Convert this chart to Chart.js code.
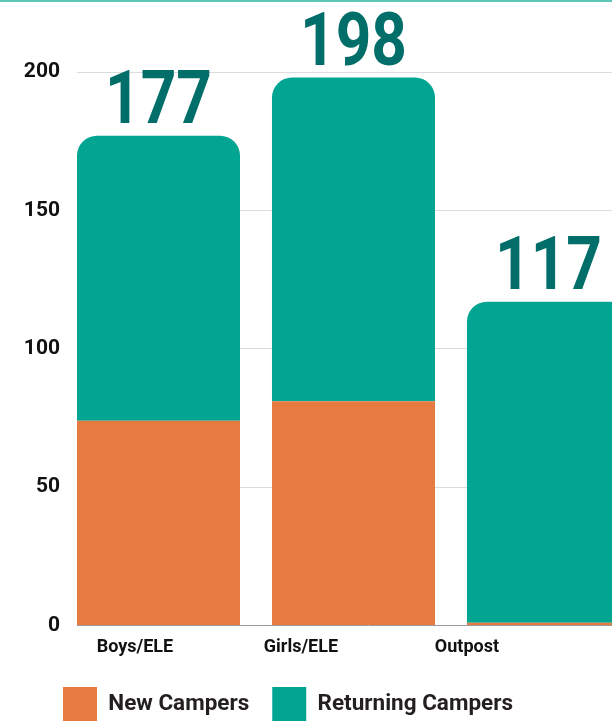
<!DOCTYPE html>
<html>
<head>
<meta charset="utf-8">
<script src="https://cdn.jsdelivr.net/npm/chart.js@4"></script>
<style>
  html, body { margin: 0; padding: 0; background: #fff; }
  #frame { position: relative; width: 612px; height: 721px; overflow: hidden; }
  #inner { position: absolute; left: 0; top: 0; width: 660px; height: 732px; }
  #topline { position: absolute; left: 0; top: 0; width: 612px; height: 2px; background: #5cc7b7; z-index: 2; }
</style>
</head>
<body>
<div id="frame">
  <div id="topline"></div>
  <div id="inner"><canvas id="c"></canvas></div>
</div>
<script>
const categories = ['Boys/ELE', 'Girls/ELE', 'Outpost'];
const newCampers = [74, 81, 1];
const returningCampers = [103, 117, 116];
const yTicks = [0, 50, 100, 150, 200];
const seriesNames = ['New Campers', 'Returning Campers'];

const ORANGE = '#e67b41';
const TEAL = '#02a592';
const DARK_TEAL = '#016e6a';
const FONT = 'Roboto, "Open Sans", sans-serif';
const Y_FONT = { family: FONT, size: 21, weight: 'bold' };

// measure widest y tick label so labels can be right-aligned at a fixed gap
const mctx = document.createElement('canvas').getContext('2d');
mctx.font = 'bold 21px ' + FONT;
const widestY = Math.max(...yTicks.map(v => mctx.measureText(String(v)).width));

const totalsPlugin = {
  id: 'totals',
  afterDatasetsDraw(chart) {
    const ctx = chart.ctx;
    const xs = chart.scales.x, ys = chart.scales.y;
    ctx.save();
    ctx.fillStyle = DARK_TEAL;
    ctx.font = 'bold 74px ' + FONT;
    ctx.textAlign = 'center';
    ctx.textBaseline = 'alphabetic';
    categories.forEach((c, i) => {
      const total = newCampers[i] + returningCampers[i];
      const px = xs.getPixelForValue(i);
      const py = ys.getPixelForValue(total) - 13;
      ctx.save();
      ctx.translate(px, py);
      ctx.scale(0.84, 1);
      ctx.fillText(String(total), 0, 0);
      ctx.restore();
    });
    ctx.restore();
  }
};

new Chart(document.getElementById('c'), {
  type: 'bar',
  data: {
    datasets: [
      {
        label: seriesNames[0],
        data: categories.map((c, i) => ({ x: i, y: newCampers[i] })),
        backgroundColor: ORANGE,
        borderWidth: 0,
        barPercentage: 0.836,
        categoryPercentage: 1
      },
      {
        label: seriesNames[1],
        data: categories.map((c, i) => ({ x: i, y: returningCampers[i] })),
        backgroundColor: TEAL,
        borderWidth: 0,
        borderRadius: { topLeft: 20, topRight: 20, bottomLeft: 0, bottomRight: 0 },
        borderSkipped: false,
        barPercentage: 0.836,
        categoryPercentage: 1
      }
    ]
  },
  options: {
    responsive: true,
    maintainAspectRatio: false,
    animation: false,
    layout: { padding: { top: 72, left: 40, right: 0, bottom: 0 } },
    plugins: {
      tooltip: { enabled: false },
      legend: {
        position: 'bottom',
        align: 'start',
        labels: {
          boxWidth: 34,
          boxHeight: 35,
          padding: 23,
          color: '#231f20',
          font: { family: FONT, size: 22.5, weight: 'bold' }
        }
      }
    },
    scales: {
      x: {
        type: 'linear',
        stacked: true,
        display: false,
        offset: false,
        min: -0.418,
        max: 2.572,
        afterBuildTicks: (s) => { s.ticks = categories.map((c, i) => ({ value: i })); }
      },
      xLabels: {
        type: 'linear',
        position: 'bottom',
        offset: false,
        min: -0.349,
        max: 3.163,
        grid: { display: false },
        border: { display: false },
        afterBuildTicks: (s) => { s.ticks = categories.map((c, i) => ({ value: i })); },
        afterFit: (s) => { s.height = s.height + 3; },
        ticks: {
          autoSkip: false,
          maxRotation: 0,
          padding: 3,
          color: '#111',
          font: { family: FONT, size: 18, weight: 'bold' },
          callback: (v) => categories[v] !== undefined ? categories[v] : ''
        }
      },
      y: {
        stacked: true,
        min: 0,
        max: 200,
        afterBuildTicks: (s) => { s.ticks = yTicks.map(v => ({ value: v })); },
        afterFit: (s) => { s.width = 37; },
        border: { display: false },
        grid: {
          drawTicks: false,
          color: (ctx) => ctx.tick && ctx.tick.value === 0 ? '#9a9a9a' : '#dcdcdc',
          lineWidth: 1
        },
        ticks: {
          mirror: true,
          crossAlign: 'far',
          padding: -(17 + widestY),
          color: '#111',
          font: Y_FONT
        }
      }
    }
  },
  plugins: [totalsPlugin]
});
</script>
</body>
</html>
